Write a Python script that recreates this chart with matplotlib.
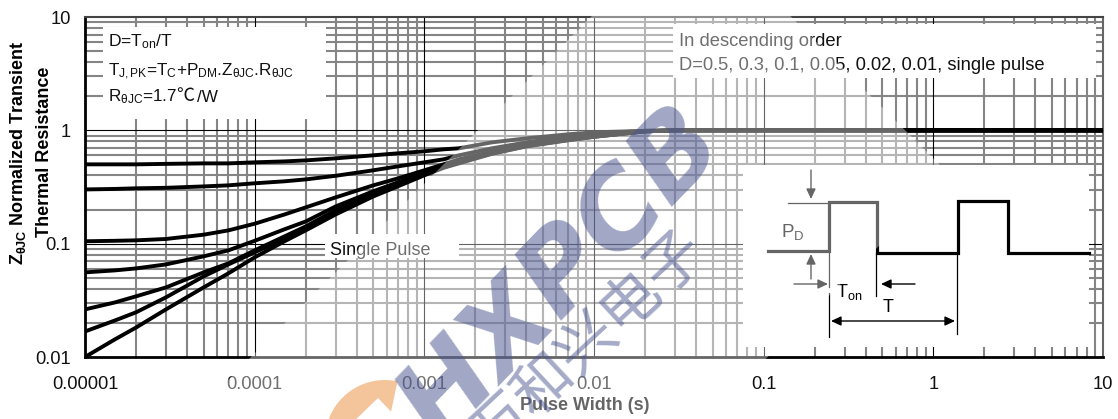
import matplotlib
matplotlib.use("Agg")
import matplotlib.pyplot as plt
from matplotlib.patches import Rectangle, Wedge, Polygon
from matplotlib.ticker import NullLocator

plt.rcParams['font.family'] = ['Liberation Sans', 'Noto Sans CJK SC', 'DejaVu Sans']
plt.rcParams['mathtext.fontset'] = 'custom'
plt.rcParams['mathtext.rm'] = 'Liberation Sans'
plt.rcParams['mathtext.bf'] = 'Liberation Sans:bold'
plt.rcParams['mathtext.it'] = 'Liberation Sans:italic'

W, H = 1118, 419

# Curves
pulse_width = [1e-5, 1.5e-5, 2e-5, 3e-5, 5e-5, 7e-5, 1e-4, 1.5e-4, 2e-4, 3e-4, 5e-4, 7e-4, 1e-3, 1.3e-3, 1.6e-3,
               2.5e-3, 4e-3, 7e-3, 1e-2, 2e-2, 3e-2, 0.66, 10]
d_05 = [0.501, 0.501, 0.501, 0.506, 0.511, 0.511, 0.522, 0.532, 0.543, 0.566, 0.602, 0.627, 0.653, 0.680, 0.694,
        0.783, 0.850, 0.922, 0.960, 0.990, 1, 1, 1]
d_03 = [0.301, 0.304, 0.308, 0.311, 0.320, 0.327, 0.341, 0.355, 0.369, 0.397, 0.444, 0.481, 0.522, 0.555, 0.602,
        0.694, 0.783, 0.885, 0.931, 0.990, 1, 1, 1]
d_01 = [0.105, 0.106, 0.107, 0.110, 0.120, 0.131, 0.150, 0.181, 0.209, 0.256, 0.327, 0.377, 0.444, 0.501, 0.555,
        0.650, 0.745, 0.845, 0.900, 0.98, 1, 1, 1]
d_005 = [0.0558, 0.0581, 0.0605, 0.0656, 0.0773, 0.0873, 0.106, 0.134, 0.157, 0.213, 0.290, 0.348, 0.426, 0.481, 0.544,
         0.640, 0.735, 0.83, 0.885, 0.98, 1, 1, 1]
d_002 = [0.0263, 0.0303, 0.0343, 0.0411, 0.0558, 0.0670, 0.0873, 0.116, 0.142, 0.197, 0.278, 0.340, 0.417, 0.476, 0.532,
         0.630, 0.73, 0.825, 0.88, 0.98, 1, 1, 1]
d_001 = [0.0168, 0.0210, 0.0248, 0.0336, 0.0514, 0.0656, 0.0838, 0.111, 0.136, 0.189, 0.272, 0.334, 0.409, 0.471, 0.522,
         0.625, 0.725, 0.82, 0.878, 0.98, 1, 1, 1]
single = [0.01, 0.0143, 0.0182, 0.0263, 0.0411, 0.0547, 0.0757, 0.105, 0.131, 0.181, 0.261, 0.321, 0.401, 0.467, 0.511,
          0.620, 0.722, 0.816, 0.876, 0.98, 1, 1, 1]
curves = [d_05, d_03, d_01, d_005, d_002, d_001, single]

x_ticks = [1e-5, 1e-4, 1e-3, 1e-2, 1e-1, 1, 10]
x_labels = ['0.00001', '0.0001', '0.001', '0.01', '0.1', '1', '10']
y_ticks = [0.01, 0.1, 1, 10]
y_labels = ['0.01', '0.1', '1', '10']

# inset waveform, in picture pixels
pulse_x = [768, 829, 829, 877, 877, 958, 958, 1008, 1008, 1089]
pulse_y = [251, 251, 202, 202, 253, 253, 201, 201, 253, 253]

fig = plt.figure(figsize=(W / 100, H / 100), dpi=100)
ax = fig.add_axes([85 / W, 1 - 357 / H, (1103 - 85) / W, (357 - 17) / H])
ax.set_xscale('log')
ax.set_yscale('log')
ax.set_xlim(1e-5, 10)
ax.set_ylim(0.01, 10)

for e in range(-5, 1):
    for m in range(2, 10):
        ax.axvline(m * 10.0 ** e, color='#858585', lw=1.5, zorder=1)
for e in range(-2, 1):
    for m in range(2, 10):
        ax.axhline(m * 10.0 ** e, color='#858585', lw=1.5, zorder=1)
for v in x_ticks[1:-1]:
    ax.axvline(v, color='black', lw=0.8, zorder=1.5)
for v in y_ticks[1:-1]:
    ax.axhline(v, color='black', lw=0.8, zorder=1.5)

for ys in curves:
    ax.plot(pulse_width, ys, color='black', lw=2.8, zorder=3, solid_capstyle='butt')

ax.set_xticks(x_ticks)
ax.set_xticklabels(x_labels, fontsize=13.2, color='#111111')
ax.set_yticks(y_ticks)
ax.set_yticklabels(y_labels, fontsize=13.2, color='#111111')
ax.xaxis.set_minor_locator(NullLocator())
ax.yaxis.set_minor_locator(NullLocator())
ax.tick_params(axis='x', length=0, pad=14)
ax.tick_params(axis='y', length=0, pad=10)
for s, c, w in [('left', 'black', 2), ('bottom', 'black', 2), ('top', '#444444', 1.5), ('right', '#666666', 1.5)]:
    ax.spines[s].set_color(c)
    ax.spines[s].set_linewidth(w)

# overlay in picture pixels for boxes, inset and watermark
ov = fig.add_axes([0, 0, 1, 1], facecolor='none')
ov.set_xlim(0, W)
ov.set_ylim(H, 0)
ov.axis('off')

for x0, y0, x1, y1 in [(103, 27, 326, 119), (673, 24, 1096, 78), (325, 234, 459, 258), (743, 165, 1089, 347)]:
    ov.add_patch(Rectangle((x0, y0), x1 - x0, y1 - y0, fc='white', ec='none', zorder=2))

ink = '#111111'
ov.text(108, 42, r'D=T$_{\mathrm{on}}$/T', fontsize=12.6, color=ink, va='center', zorder=3)
ov.text(108, 72, r'T$_{\mathrm{J,PK}}$=T$_{\mathrm{C}}$+P$_{\mathrm{DM}}$.Z$_{\mathrm{\theta JC}}$.R$_{\mathrm{\theta JC}}$',
        fontsize=12.35, color=ink, va='center', zorder=3)
ov.text(108, 97, r'R$_{\mathrm{\theta JC}}$=1.7', fontsize=12.35, color=ink, va='center', zorder=3)
ov.text(176, 96, '℃', fontsize=13, family=['Noto Sans CJK SC'], color=ink, va='center', zorder=3)
ov.text(197, 97, '/W', fontsize=12.35, color=ink, va='center', zorder=3)
ov.text(679, 41, 'In descending order', fontsize=13.2, color=ink, va='center', zorder=3)
ov.text(679, 65, 'D=0.5, 0.3, 0.1, 0.05, 0.02, 0.01, single pulse', fontsize=13.25, color=ink, va='center', zorder=3)
ov.text(330, 250, 'Single Pulse', fontsize=13, color=ink, va='center', zorder=3)

ov.plot(pulse_x, pulse_y, color='black', lw=2.3, zorder=3, solid_joinstyle='miter')
thin = [(788, 203, 829, 203), (829, 253, 829, 287), (829, 293, 829, 337), (876, 253, 876, 296), (957, 253, 957, 334)]
for x0, y0, x1, y1 in thin:
    ov.plot([x0, x1], [y0, y1], color='black', lw=0.9, zorder=3)


def arrow(a, b, style='-|>'):
    ov.annotate('', xy=b, xytext=a, zorder=3,
                arrowprops=dict(arrowstyle=style + ',head_width=0.28,head_length=0.6', color='black', lw=1,
                                shrinkA=0, shrinkB=0))


arrow((811, 170), (811, 199))
arrow((811, 279), (811, 254))
arrow((794, 284), (828, 284))
arrow((915, 284), (881, 284))
arrow((955, 321), (831, 321), '<|-|>')
ov.text(781, 232, r'P$_{\mathrm{D}}$', fontsize=13.5, color='black', va='center', zorder=3)
ov.text(836, 292, r'T$_{\mathrm{on}}$', fontsize=13, color='black', va='center', zorder=3)
ov.text(883, 307, 'T', fontsize=13, color='black', va='center', zorder=3)

# axis titles
ov.text(18, 153, r'$\mathbf{Z_{\theta JC}}$ Normalized Transient', rotation=90, fontsize=13, fontweight='bold',
        ha='center', va='center', color='black', zorder=3)
ov.text(45, 152, 'Thermal Resistance', rotation=90, fontsize=13, fontweight='bold',
        ha='center', va='center', color='black', zorder=3)
ov.text(585, 405, 'Pulse Width (s)', fontsize=12.9, fontweight='bold', ha='center', va='center', color='black', zorder=3)

# logo behind the band
ov.add_patch(Wedge((385, 440), 60, 190, 282, fc='#ee9d5a', ec='none', zorder=1))
ov.add_patch(Polygon([(378, 398), (350, 425), (404, 425)], fc='white', ec='none', zorder=1.5))

# pale diagonal band of the watermark, fades what lies under it
ov.add_patch(Polygon([(691, -83), (950, 175), (462, 662), (204, 404)], fc='white', ec='none', alpha=0.4, zorder=4))

# watermark
ov.text(562, 275, 'HXPCB', rotation=46, rotation_mode='anchor', fontsize=78, fontweight='bold', fontstyle='italic',
        family=['DejaVu Sans'], ha='center', va='center', color='#4a5590', alpha=0.52, zorder=6, clip_on=True)
ov.text(590, 345, '万和兴电子', rotation=43, rotation_mode='anchor', fontsize=43,
        ha='center', va='center', color='#4a5590', alpha=0.5, zorder=6, clip_on=True)

fig.savefig('out.png', dpi=100)
